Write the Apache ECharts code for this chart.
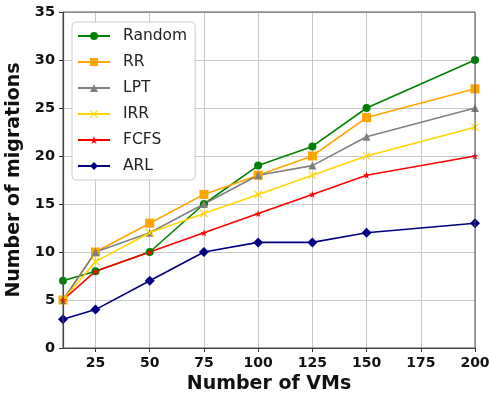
<!DOCTYPE html>
<html><head><meta charset="utf-8">
<script src="https://cdn.jsdelivr.net/npm/echarts@6/dist/echarts.min.js"></script>
<style>html,body{margin:0;padding:0;background:#fff}#c{width:489px;height:397px}</style>
</head><body><div id="c"></div>
<script>
const vms = [10, 25, 50, 75, 100, 125, 150, 200];
const xTicks = [25, 50, 75, 100, 125, 150, 175, 200];
const random = [7, 8, 10, 15, 19, 21, 25, 30];
const rr = [5, 10, 13, 16, 18, 20, 24, 27];
const lpt = [5, 10, 12, 15, 18, 19, 22, 25];
const irr = [5, 9, 12, 14, 16, 18, 20, 23];
const fcfs = [5, 8, 10, 12, 14, 16, 18, 20];
const arl = [3, 4, 7, 10, 11, 11, 12, 13];

const F = 'DejaVu Sans';
const xPath = 'path://M0,1 L1,0 L5,4 L9,0 L10,1 L6,5 L10,9 L9,10 L5,6 L1,10 L0,9 L4,5 Z';
const starPath = 'path://M5,0 L6.2,3.6 L10,3.6 L6.9,5.9 L8.1,9.5 L5,7.3 L1.9,9.5 L3.1,5.9 L0,3.6 L3.8,3.6 Z';
function mk(name, vals, color, symbol, size){
  return {name, type:'line', data: vms.map((v,i)=>[v, vals[i]]), symbol, symbolSize:size,
    lineStyle:{color, width:1.6}, itemStyle:{color}, color, z:3, animation:false};
}
const chart = echarts.init(document.getElementById('c'));
chart.setOption({
  animation:false,
  textStyle:{fontFamily:F},
  grid:{left:63, right:14, top:12, bottom:49, containLabel:false, outerBoundsMode:'none'},
  legend:{left:72, top:22, orient:'vertical', itemGap:10, itemWidth:32, itemHeight:10,
    borderColor:'#cccccc', borderWidth:1, borderRadius:4, padding:[6,8,6,5],
    backgroundColor:'#ffffff',
    textStyle:{fontFamily:F, fontSize:15.5, color:'#222', padding:[0,0,0,8]},
    data:['Random','RR','LPT','IRR','FCFS','ARL']},
  xAxis:{type:'value', min:10, max:200,
    name:'Number of VMs', nameLocation:'middle', nameGap:27,
    nameTextStyle:{fontFamily:F, fontSize:19, fontWeight:'bold', color:'#111'},
    axisLine:{show:true, lineStyle:{color:'#333', width:1.2}},
    axisTick:{show:true, length:4, lineStyle:{color:'#333'}, customValues:xTicks},
    axisLabel:{fontFamily:F, fontSize:14, fontWeight:'bold', color:'#111', margin:8, customValues:xTicks},
    splitLine:{show:true, lineStyle:{color:'#c8c8c8', width:1}}},
  yAxis:{type:'value', min:0, max:35, interval:5,
    name:'Number of migrations', nameLocation:'middle', nameGap:35,
    nameTextStyle:{fontFamily:F, fontSize:19, fontWeight:'bold', color:'#111'},
    axisLine:{show:true, lineStyle:{color:'#333', width:1.2}},
    axisTick:{show:true, length:4, lineStyle:{color:'#333'}},
    axisLabel:{fontFamily:F, fontSize:14.5, fontWeight:'bold', color:'#111', margin:8},
    splitLine:{show:true, lineStyle:{color:'#c8c8c8', width:1}}},
  series:[
    mk('Random', random, '#008000', 'circle', 8),
    mk('RR', rr, '#FFA500', 'rect', 9),
    mk('LPT', lpt, '#808080', 'triangle', 8),
    mk('IRR', irr, '#FFD700', xPath, 8),
    mk('FCFS', fcfs, '#FF0000', starPath, 7),
    mk('ARL', arl, '#000080', 'diamond', 10)
  ],
  graphic:[{type:'rect', shape:{x:63, y:12, width:412, height:336}, style:{fill:'none', stroke:'#555', lineWidth:1}, z:10, silent:true}]
});
</script></body></html>
